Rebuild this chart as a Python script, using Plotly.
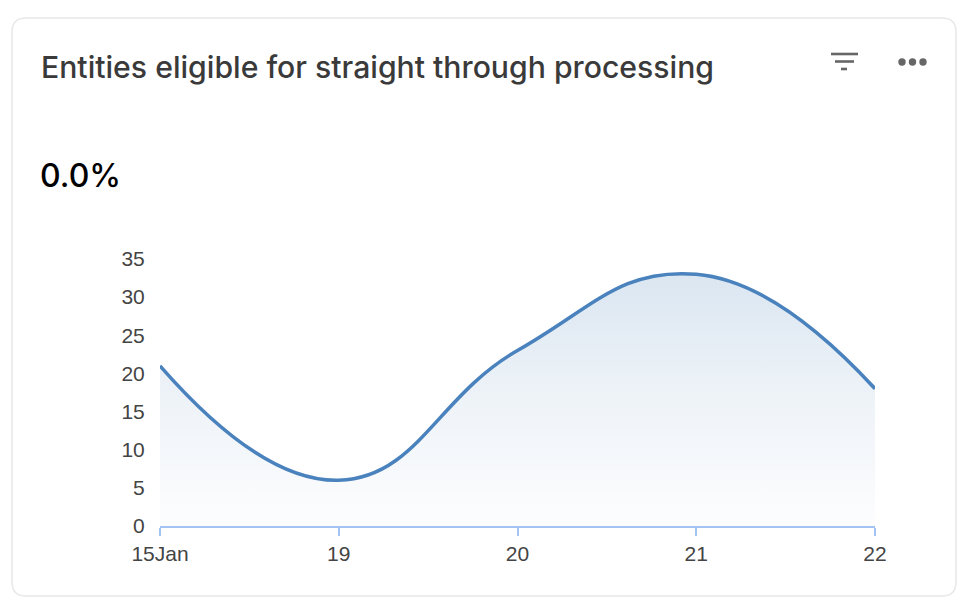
import plotly.graph_objects as go

# values
days = ["15Jan", "19", "20", "21", "22"]
eligible = [21, 6, 23, 33, 18]
y_ticks = [0, 5, 10, 15, 20, 25, 30, 35]

title_text = "Entities eligible for straight through processing"
kpi_text = "0.0%"

W = 964
H = 606
left = 160
right = 875
top = 259
bottom = 526


# pixel position on the page -> paper coordinates of the plot area
def px(x):
    return (x - left) / (right - left)


def py(y):
    return (bottom - y) / (bottom - top)


def card_path(x0, y0, x1, y1, r):
    a, b = px(x0), py(y0)
    c, d = px(x1), py(y1)
    rx = r / (right - left)
    ry = r / (bottom - top)
    return (f"M {a + rx} {b} L {c - rx} {b} Q {c} {b} {c} {b - ry} "
            f"L {c} {d + ry} Q {c} {d} {c - rx} {d} "
            f"L {a + rx} {d} Q {a} {d} {a} {d + ry} "
            f"L {a} {b - ry} Q {a} {b} {a + rx} {b} Z")


fig = go.Figure()

fig.add_trace(go.Scatter(
    x=days,
    y=eligible,
    mode="lines",
    line=dict(color="#4a82bd", width=3.5, shape="spline", smoothing=1.3),
    fill="tozeroy",
    fillgradient=dict(
        type="vertical",
        colorscale=[[0, "#fdfdfe"], [0.5, "#eef3f8"], [1, "#dbe6f1"]],
    ),
    cliponaxis=False,
    hoverinfo="x+y",
))

shapes = [dict(
    type="path", xref="paper", yref="paper", layer="below",
    path=card_path(12, 18, 956, 596, 14),
    fillcolor="white", line=dict(color="#e8e8e8", width=1.5),
)]

# filter icon
for x0, x1, y in [(831, 858, 54), (835, 854, 61.5), (841, 847, 69)]:
    shapes.append(dict(type="line", xref="paper", yref="paper",
                       x0=px(x0), x1=px(x1), y0=py(y), y1=py(y),
                       line=dict(color="#666666", width=2.6)))

# menu dots
for cx in [902, 912.5, 923]:
    shapes.append(dict(type="circle", xref="paper", yref="paper",
                       x0=px(cx - 3.7), x1=px(cx + 3.7),
                       y0=py(62 + 3.7), y1=py(62 - 3.7),
                       fillcolor="#666666", line=dict(width=0)))

fig.update_layout(
    width=W,
    height=H,
    margin=dict(l=left, r=W - right, t=top, b=H - bottom),
    paper_bgcolor="white",
    plot_bgcolor="rgba(0,0,0,0)",
    showlegend=False,
    shapes=shapes,
    annotations=[
        dict(text=title_text, xref="paper", yref="paper", x=px(38.5), y=py(67.5),
             xanchor="left", yanchor="middle", showarrow=False,
             font=dict(family="Inter", size=30.2, weight=500, color="#3a3a3a")),
        dict(text=kpi_text, xref="paper", yref="paper", x=px(38), y=py(176),
             xanchor="left", yanchor="middle", showarrow=False,
             font=dict(family="Inter", size=32, weight=500, color="#000000")),
    ],
)

fig.update_xaxes(
    type="category",
    categoryorder="array",
    categoryarray=days,
    range=[0, 4],
    showgrid=False,
    zeroline=False,
    showline=True,
    linecolor="#a3c3f2",
    linewidth=2,
    ticks="outside",
    ticklen=8,
    tickwidth=2,
    tickcolor="#a3c3f2",
    tickfont=dict(family="Liberation Sans", size=21, color="#444444"),
)

fig.update_yaxes(
    range=[0, 35],
    tickvals=y_ticks,
    showgrid=False,
    zeroline=False,
    showline=False,
    ticks="outside",
    ticklen=10,
    tickcolor="rgba(0,0,0,0)",
    tickfont=dict(family="Liberation Sans", size=21, color="#444444"),
)

fig.write_html(
    "out.html",
    config={"displayModeBar": False},
    post_script="document.body.style.margin = '0';",
)
